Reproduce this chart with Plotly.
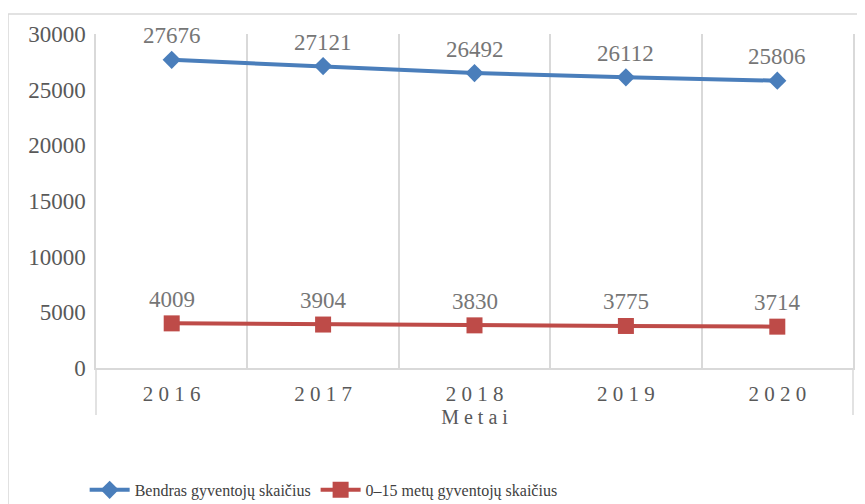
import plotly.graph_objects as go

years = ["2016", "2017", "2018", "2019", "2020"]
total_pop = [27676, 27121, 26492, 26112, 25806]
child_pop = [4009, 3904, 3830, 3775, 3714]
series_names = ["Bendras gyventojų skaičius", "0–15 metų gyventojų skaičius"]
x_title = "Metai"

BLUE = "#4A7EBB"
RED = "#BE4B48"
GRID = "#d9d9d9"
FONT = "Liberation Serif"

xpos = list(range(len(years)))

fig = go.Figure()
fig.add_trace(go.Scatter(
    x=xpos, y=total_pop, name=series_names[0], mode="lines+markers",
    line=dict(color=BLUE, width=4),
    marker=dict(symbol="diamond", size=14, color=BLUE),
))
fig.add_trace(go.Scatter(
    x=xpos, y=child_pop, name=series_names[1], mode="lines+markers",
    line=dict(color=RED, width=4),
    marker=dict(symbol="square", size=16, color=RED),
))

annotations = []
for ys in (total_pop, child_pop):
    for xv, yv in zip(xpos, ys):
        annotations.append(dict(
            x=xv, y=yv, xref="x", yref="y", text=str(yv), showarrow=False,
            yshift=24, xanchor="center", yanchor="middle",
            font=dict(family=FONT, size=23, color="#767676"),
        ))

shapes = [
    dict(type="line", xref="paper", yref="paper", x0=-0.1162, x1=1.2, y0=1.0599, y1=1.0599,
         line=dict(color=GRID, width=1.5)),
    dict(type="line", xref="paper", yref="paper", x0=-0.1162, x1=-0.1162, y0=1.0599, y1=-0.45,
         line=dict(color=GRID, width=1.5)),
    dict(type="line", xref="paper", yref="paper", x0=0, x1=0, y0=0, y1=-0.141,
         line=dict(color=GRID, width=1.5)),
    dict(type="line", xref="paper", yref="paper", x0=1, x1=1, y0=0, y1=-0.141,
         line=dict(color=GRID, width=1.5)),
]

fig.update_layout(
    width=857, height=496,
    margin=dict(l=88, r=12, t=26, b=136, autoexpand=False),
    paper_bgcolor="white", plot_bgcolor="white",
    font=dict(family=FONT, color="#595959"),
    showlegend=True,
    legend=dict(
        orientation="h", x=-0.015, xanchor="left", y=-0.365, yanchor="middle",
        font=dict(family=FONT, size=16, color="#404040"),
        itemwidth=40, tracegroupgap=0,
    ),
    annotations=annotations,
    shapes=shapes,
)
fig.update_xaxes(
    range=[-0.5, len(years) - 0.5],
    showgrid=False,
    minor=dict(tickvals=[i + 0.5 for i in xpos[:-1]], showgrid=True,
               gridcolor=GRID, gridwidth=1.5, ticks=""),
    showline=True, linecolor=GRID, linewidth=1.5,
    ticks="", tickvals=xpos, ticktext=[" ".join(y) for y in years],
    tickfont=dict(family=FONT, size=21, color="#595959"),
    ticklabelstandoff=6,
    title=dict(text=" ".join(x_title), font=dict(family=FONT, size=20, color="#595959"), standoff=0),
    zeroline=False,
)
fig.update_yaxes(
    range=[0, 30000], dtick=5000, tickformat="d", showgrid=False, zeroline=False,
    showline=True, mirror=True, linecolor=GRID, linewidth=1.5,
    ticks="", tickfont=dict(family=FONT, size=23, color="#595959"),
    ticklabelstandoff=4,
)

fig.write_html("out.html")
